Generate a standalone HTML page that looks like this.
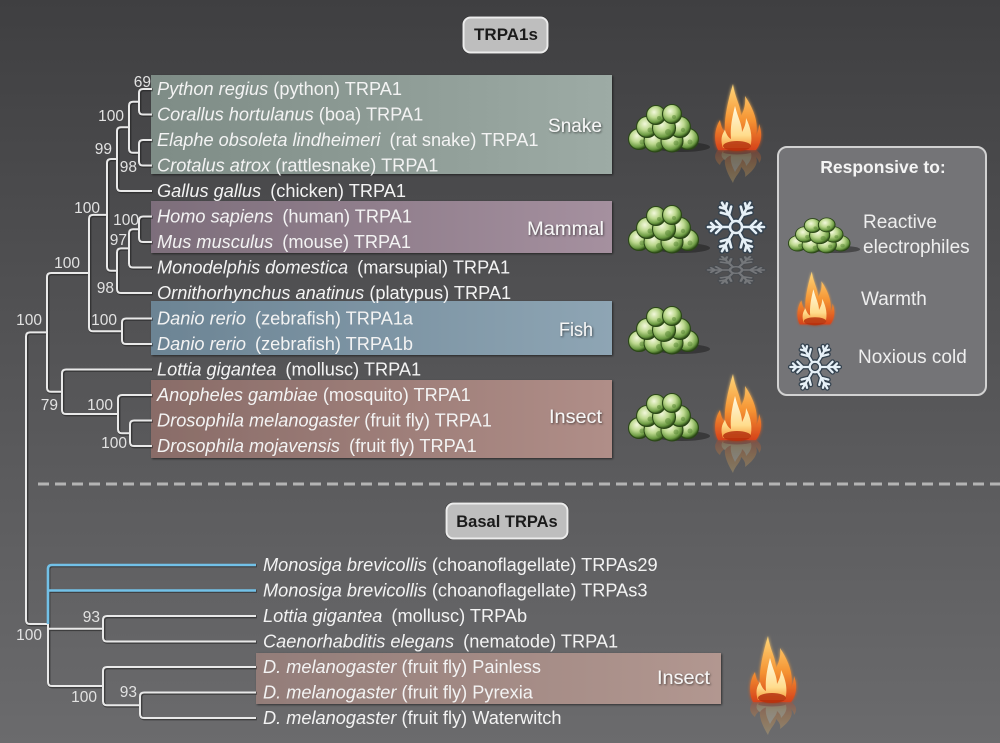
<!DOCTYPE html>
<html><head><meta charset="utf-8"><style>
html,body{margin:0;padding:0;background:#555;}
svg{display:block;}
text{font-family:"Liberation Sans",Arial,sans-serif;}
</style></head><body>
<svg width="1000" height="743" viewBox="0 0 1000 743" xmlns="http://www.w3.org/2000/svg">
<defs>
<linearGradient id="bg" x1="0" y1="0" x2="0" y2="1">
<stop offset="0" stop-color="#3f3f41"/><stop offset="0.5" stop-color="#555557"/><stop offset="1" stop-color="#6b6b6d"/>
</linearGradient>
<linearGradient id="gSnake" x1="0" y1="0" x2="1" y2="0"><stop offset="0" stop-color="#7e8c86"/><stop offset="1" stop-color="#9daba5"/></linearGradient>
<linearGradient id="gMam" x1="0" y1="0" x2="1" y2="0"><stop offset="0" stop-color="#7d6e7b"/><stop offset="1" stop-color="#a5909f"/></linearGradient>
<linearGradient id="gFish" x1="0" y1="0" x2="1" y2="0"><stop offset="0" stop-color="#6c8494"/><stop offset="1" stop-color="#8ea5b4"/></linearGradient>
<linearGradient id="gIns" x1="0" y1="0" x2="1" y2="0"><stop offset="0" stop-color="#896c68"/><stop offset="1" stop-color="#b08e88"/></linearGradient>
<linearGradient id="gIns2" x1="0" y1="0" x2="1" y2="0"><stop offset="0" stop-color="#937d79"/><stop offset="1" stop-color="#b29790"/></linearGradient>
<radialGradient id="sprout" cx="0.4" cy="0.35" r="0.65">
<stop offset="0" stop-color="#f3f8dc"/><stop offset="0.45" stop-color="#bcd88e"/><stop offset="0.82" stop-color="#6c9b43"/><stop offset="1" stop-color="#2c4a17"/>
</radialGradient>
<linearGradient id="fo" x1="0" y1="0" x2="0" y2="1"><stop offset="0" stop-color="#ffd77a"/><stop offset="0.55" stop-color="#f59332"/><stop offset="1" stop-color="#d5421a"/></linearGradient>
<linearGradient id="fi" x1="0" y1="0" x2="0" y2="1"><stop offset="0" stop-color="#fffae4"/><stop offset="0.7" stop-color="#ffdc8c"/><stop offset="1" stop-color="#f59a3a"/></linearGradient>
<filter id="sh" x="-10%" y="-10%" width="130%" height="140%"><feDropShadow dx="1" dy="1" stdDeviation="1" flood-color="#000" flood-opacity="0.55"/></filter>
<filter id="glow" x="-30%" y="-30%" width="160%" height="160%"><feGaussianBlur stdDeviation="1.5" result="b"/><feMerge><feMergeNode in="b"/><feMergeNode in="SourceGraphic"/></feMerge></filter>
<g id="pile">
<ellipse cx="54" cy="45" rx="28" ry="5" fill="#1a1a1a" opacity="0.5"/>
<g stroke="#2a4716" stroke-width="1.1" fill="url(#sprout)">
<circle cx="11" cy="37" r="10.5"/><circle cx="60" cy="37" r="10.5"/>
<circle cx="27" cy="39" r="11"/><circle cx="44" cy="39" r="11"/>
<circle cx="19" cy="25" r="10.5"/><circle cx="52" cy="25" r="10.5"/>
<circle cx="36" cy="26" r="11.5"/>
<circle cx="28" cy="13" r="9.5"/><circle cx="44" cy="12" r="9.5"/>
</g>
<g fill="#4f7f2c" opacity="0.45">
<circle cx="14" cy="40" r="2.5"/><circle cx="31" cy="43" r="3"/><circle cx="48" cy="41" r="2.5"/><circle cx="62" cy="40" r="2.5"/>
<circle cx="22" cy="28" r="2.5"/><circle cx="40" cy="30" r="3"/><circle cx="55" cy="28" r="2.2"/><circle cx="31" cy="16" r="2"/><circle cx="46" cy="15" r="2"/>
</g>
</g>
<g id="flame">
<path d="M6,68 C1,58 3,46 8,38 C9,45 11,48 13,50 C12,38 15,22 21,2 C23,16 29,24 29,34 C32,28 34,22 33,14 C41,26 47,40 44,54 C46,50 47,46 47,42 C51,52 49,62 44,68 Z" fill="url(#fo)"/>
<path d="M11,66 C8,58 10,52 13,48 C15,54 17,56 19,57 C18,46 20,36 23,24 C26,36 30,42 30,50 C32,46 34,42 34,36 C39,46 41,56 38,66 Z" fill="url(#fi)"/>
<ellipse cx="25" cy="64" rx="14" ry="5" fill="#b5300f" opacity="0.85"/>
</g>
<g id="snow">
<g stroke="#34424f" stroke-width="5.5" stroke-linecap="round" fill="none">
<g id="arm0"><path d="M7,0 H28 M14,0 L20,-6 M14,0 L20,6 M21,0 L25,-4 M21,0 L25,4"/></g>
<use href="#arm0" transform="rotate(60)"/><use href="#arm0" transform="rotate(120)"/><use href="#arm0" transform="rotate(180)"/><use href="#arm0" transform="rotate(240)"/><use href="#arm0" transform="rotate(300)"/>
<circle r="6"/>
</g>
<g stroke="#e6f0f7" stroke-width="2.6" stroke-linecap="round" fill="none">
<g id="arm1"><path d="M7,0 H28 M14,0 L20,-6 M14,0 L20,6 M21,0 L25,-4 M21,0 L25,4"/></g>
<use href="#arm1" transform="rotate(60)"/><use href="#arm1" transform="rotate(120)"/><use href="#arm1" transform="rotate(180)"/><use href="#arm1" transform="rotate(240)"/><use href="#arm1" transform="rotate(300)"/>
<circle r="6"/>
</g>
</g>
</defs>

<rect x="0" y="0" width="1000" height="743" fill="url(#bg)"/>

<!-- group boxes -->
<g filter="url(#sh)">
<rect x="151" y="75" width="461" height="99" fill="url(#gSnake)"/>
<rect x="151" y="201" width="461" height="52" fill="url(#gMam)"/>
<rect x="151" y="301" width="461" height="54" fill="url(#gFish)"/>
<rect x="151" y="380" width="461" height="78" fill="url(#gIns)"/>
<rect x="256" y="653" width="465" height="51" fill="url(#gIns2)"/>
</g>

<!-- title boxes -->
<rect x="462" y="16" width="87" height="38" rx="8" fill="#2a2a2a" opacity="0.5"/>
<rect x="463.5" y="17.5" width="84" height="35" rx="7" fill="#bebebe" stroke="#ececec" stroke-width="2"/>
<text x="506" y="40" font-size="17" font-weight="bold" fill="#1b1b1b" text-anchor="middle">TRPA1s</text>
<rect x="445" y="502" width="124" height="38" rx="8" fill="#2a2a2a" opacity="0.5"/>
<rect x="446.5" y="503.5" width="121" height="35" rx="7" fill="#bebebe" stroke="#ececec" stroke-width="2"/>
<text x="507" y="527" font-size="16.5" font-weight="bold" fill="#1b1b1b" text-anchor="middle">Basal TRPAs</text>

<!-- dashed separator -->
<line x1="38" y1="484" x2="1000" y2="484" stroke="#b4b4b4" stroke-width="3" stroke-dasharray="11 6"/>

<!-- tree lines shadow -->
<g fill="none" stroke="#1e1e1e" stroke-opacity="0.55" stroke-width="3.2" transform="translate(0.8,0.8)">
<path d="M152,89 H143 Q139,89 139,93 V110.5 Q139,114.5 143,114.5 H152"/>
<path d="M152,140 H143 Q139,140 139,144 V161.5 Q139,165.5 143,165.5 H152"/>
<path d="M139,101.75 H133 Q129,101.75 129,105.75 V148.75 Q129,152.75 133,152.75 H139"/>
<path d="M129,127.25 H121 Q117,127.25 117,131.25 V187 Q117,191 121,191 H152"/>
<path d="M152,216.5 H143 Q139,216.5 139,220.5 V238 Q139,242 143,242 H152"/>
<path d="M139,229.25 H133 Q129,229.25 129,233.25 V263.5 Q129,267.5 133,267.5 H152"/>
<path d="M129,248.4 H121 Q117,248.4 117,252.4 V289 Q117,293 121,293 H152"/>
<path d="M117,159 H111 Q107,159 107,163 V266.7 Q107,270.7 111,270.7 H117"/>
<path d="M152,318.5 H126 Q122,318.5 122,322.5 V340 Q122,344 126,344 H152"/>
<path d="M107,214.85 H93 Q89,214.85 89,218.85 V327.25 Q89,331.25 93,331.25 H122"/>
<path d="M152,420.5 H134 Q130,420.5 130,424.5 V442 Q130,446 134,446 H152"/>
<path d="M152,395 H122 Q118,395 118,399 V429.25 Q118,433.25 122,433.25 H130"/>
<path d="M152,369.5 H66 Q62,369.5 62,373.5 V410 Q62,414 66,414 H118"/>
<path d="M89,273 H51 Q47,273 47,277 V387.75 Q47,391.75 51,391.75 H62"/>
<path d="M47,332.4 H30 Q26,332.4 26,336.4 V620 Q26,624 30,624 H48"/>
<path d="M256,565 H52 Q48,565 48,569 V624 M48,590.5 H256"/>
<path d="M48,624 V682 Q48,686 52,686 H103 M48,628.75 H103"/>
<path d="M256,616 H107 Q103,616 103,620 V637.5 Q103,641.5 107,641.5 H256"/>
<path d="M256,667 H107 Q103,667 103,671 V701.25 Q103,705.25 107,705.25 H140"/>
<path d="M256,692.5 H144 Q140,692.5 140,696.5 V714 Q140,718 144,718 H256"/>
</g>
<!-- tree lines -->
<g fill="none" stroke="#e9e9e9" stroke-width="2">
<path d="M152,89 H143 Q139,89 139,93 V110.5 Q139,114.5 143,114.5 H152"/>
<path d="M152,140 H143 Q139,140 139,144 V161.5 Q139,165.5 143,165.5 H152"/>
<path d="M139,101.75 H133 Q129,101.75 129,105.75 V148.75 Q129,152.75 133,152.75 H139"/>
<path d="M129,127.25 H121 Q117,127.25 117,131.25 V187 Q117,191 121,191 H152"/>
<path d="M152,216.5 H143 Q139,216.5 139,220.5 V238 Q139,242 143,242 H152"/>
<path d="M139,229.25 H133 Q129,229.25 129,233.25 V263.5 Q129,267.5 133,267.5 H152"/>
<path d="M129,248.4 H121 Q117,248.4 117,252.4 V289 Q117,293 121,293 H152"/>
<path d="M117,159 H111 Q107,159 107,163 V266.7 Q107,270.7 111,270.7 H117"/>
<path d="M152,318.5 H126 Q122,318.5 122,322.5 V340 Q122,344 126,344 H152"/>
<path d="M107,214.85 H93 Q89,214.85 89,218.85 V327.25 Q89,331.25 93,331.25 H122"/>
<path d="M152,420.5 H134 Q130,420.5 130,424.5 V442 Q130,446 134,446 H152"/>
<path d="M152,395 H122 Q118,395 118,399 V429.25 Q118,433.25 122,433.25 H130"/>
<path d="M152,369.5 H66 Q62,369.5 62,373.5 V410 Q62,414 66,414 H118"/>
<path d="M89,273 H51 Q47,273 47,277 V387.75 Q47,391.75 51,391.75 H62"/>
<path d="M47,332.4 H30 Q26,332.4 26,336.4 V620 Q26,624 30,624 H48"/>
<path d="M48,624 V682 Q48,686 52,686 H103 M48,628.75 H103"/>
<path d="M256,616 H107 Q103,616 103,620 V637.5 Q103,641.5 107,641.5 H256"/>
<path d="M256,667 H107 Q103,667 103,671 V701.25 Q103,705.25 107,705.25 H140"/>
<path d="M256,692.5 H144 Q140,692.5 140,696.5 V714 Q140,718 144,718 H256"/>
</g>
<path d="M256,565 H52 Q48,565 48,569 V624 M48,590.5 H256" fill="none" stroke="#72c1e8" stroke-width="2.6"/>

<!-- bootstrap values -->
<g font-size="15.5" fill="#e2e2e2" text-anchor="end">
<text x="151" y="87">69</text>
<text x="124" y="121">100</text>
<text x="112" y="154">99</text>
<text x="137" y="172">98</text>
<text x="100" y="213">100</text>
<text x="139" y="225">100</text>
<text x="127" y="245">97</text>
<text x="114" y="293">98</text>
<text x="80" y="268">100</text>
<text x="42" y="325">100</text>
<text x="117" y="325">100</text>
<text x="58" y="410">79</text>
<text x="113" y="410">100</text>
<text x="127" y="448">100</text>
<text x="100" y="622">93</text>
<text x="42" y="640">100</text>
<text x="97" y="702">100</text>
<text x="137" y="697">93</text>
</g>

<!-- species labels -->
<g font-size="18.2" fill="#f3f3f3">
<text x="157" y="95"><tspan font-style="italic">Python regius</tspan> (python) TRPA1</text>
<text x="157" y="120.5"><tspan font-style="italic">Corallus hortulanus</tspan> (boa) TRPA1</text>
<text x="157" y="146"><tspan font-style="italic">Elaphe obsoleta lindheimeri</tspan> <tspan dx="4">(rat snake) TRPA1</tspan></text>
<text x="157" y="171.5"><tspan font-style="italic">Crotalus atrox</tspan> (rattlesnake) TRPA1</text>
<text x="157" y="197"><tspan font-style="italic">Gallus gallus</tspan> <tspan dx="4">(chicken) TRPA1</tspan></text>
<text x="157" y="222.5"><tspan font-style="italic">Homo sapiens</tspan> <tspan dx="4">(human) TRPA1</tspan></text>
<text x="157" y="248"><tspan font-style="italic">Mus musculus</tspan> <tspan dx="4">(mouse) TRPA1</tspan></text>
<text x="157" y="273.5"><tspan font-style="italic">Monodelphis domestica</tspan> <tspan dx="4">(marsupial) TRPA1</tspan></text>
<text x="157" y="299"><tspan font-style="italic">Ornithorhynchus anatinus</tspan> (platypus) TRPA1</text>
<text x="157" y="324.5"><tspan font-style="italic">Danio rerio</tspan> <tspan dx="4">(zebrafish) TRPA1a</tspan></text>
<text x="157" y="350"><tspan font-style="italic">Danio rerio</tspan> <tspan dx="4">(zebrafish) TRPA1b</tspan></text>
<text x="157" y="375.5"><tspan font-style="italic">Lottia gigantea</tspan> <tspan dx="4">(mollusc) TRPA1</tspan></text>
<text x="157" y="401"><tspan font-style="italic">Anopheles gambiae</tspan> (mosquito) TRPA1</text>
<text x="157" y="426.5"><tspan font-style="italic">Drosophila melanogaster</tspan> (fruit fly) TRPA1</text>
<text x="157" y="452"><tspan font-style="italic">Drosophila mojavensis</tspan> <tspan dx="4">(fruit fly) TRPA1</tspan></text>

<text x="263" y="571"><tspan font-style="italic">Monosiga brevicollis</tspan> (choanoflagellate) TRPAs29</text>
<text x="263" y="596.5"><tspan font-style="italic">Monosiga brevicollis</tspan> (choanoflagellate) TRPAs3</text>
<text x="263" y="622"><tspan font-style="italic">Lottia gigantea</tspan> <tspan dx="4">(mollusc) TRPAb</tspan></text>
<text x="263" y="647.5"><tspan font-style="italic">Caenorhabditis elegans</tspan> <tspan dx="4">(nematode) TRPA1</tspan></text>
<text x="263" y="673"><tspan font-style="italic">D. melanogaster</tspan> (fruit fly) Painless</text>
<text x="263" y="698.5"><tspan font-style="italic">D. melanogaster</tspan> (fruit fly) Pyrexia</text>
<text x="263" y="724"><tspan font-style="italic">D. melanogaster</tspan> (fruit fly) Waterwitch</text>
</g>

<!-- group labels -->
<g font-size="19.5" fill="#f6f6f6" filter="url(#sh)">
<text x="548" y="132" textLength="54" lengthAdjust="spacingAndGlyphs">Snake</text>
<text x="527" y="235" textLength="77" lengthAdjust="spacingAndGlyphs">Mammal</text>
<text x="559" y="336" textLength="34" lengthAdjust="spacingAndGlyphs">Fish</text>
<text x="549" y="423" textLength="53" lengthAdjust="spacingAndGlyphs">Insect</text>
<text x="657" y="684" textLength="53" lengthAdjust="spacingAndGlyphs">Insect</text>
</g>

<!-- icons: piles -->
<use href="#pile" transform="translate(628,102)"/>
<use href="#pile" transform="translate(628,203)"/>
<use href="#pile" transform="translate(628,304)"/>
<use href="#pile" transform="translate(628,391)"/>

<!-- flames -->
<g filter="url(#glow)">
<use href="#flame" transform="translate(712,82)"/>
<use href="#flame" transform="translate(712,372)"/>
<use href="#flame" transform="translate(747,634)"/>
</g>
<g opacity="0.25">
<use href="#flame" transform="translate(712,184) scale(1,-0.5)"/>
<use href="#flame" transform="translate(712,474) scale(1,-0.5)"/>
<use href="#flame" transform="translate(747,736) scale(1,-0.5)"/>
</g>

<!-- snowflake -->
<use href="#snow" transform="translate(736,227)"/>
<use href="#snow" transform="translate(736,270) scale(1,-0.55)" opacity="0.25"/>

<!-- legend -->
<rect x="778" y="147" width="208" height="248" rx="9" fill="#747477" stroke="#d2d2d2" stroke-width="2"/>
<text x="883" y="173" font-size="17.5" font-weight="bold" fill="#f4f4f4" text-anchor="middle">Responsive to:</text>
<g font-size="19" fill="#eeeeee">
<text x="863" y="228">Reactive</text>
<text x="863" y="253">electrophiles</text>
<text x="861" y="305">Warmth</text>
<text x="858" y="363">Noxious cold</text>
</g>
<use href="#pile" transform="translate(788,216) scale(0.88,0.74)"/>
<use href="#flame" transform="translate(795,270) scale(0.8,0.8)" filter="url(#glow)"/>
<use href="#snow" transform="translate(815,367) scale(0.88)"/>
</svg>
</body></html>
